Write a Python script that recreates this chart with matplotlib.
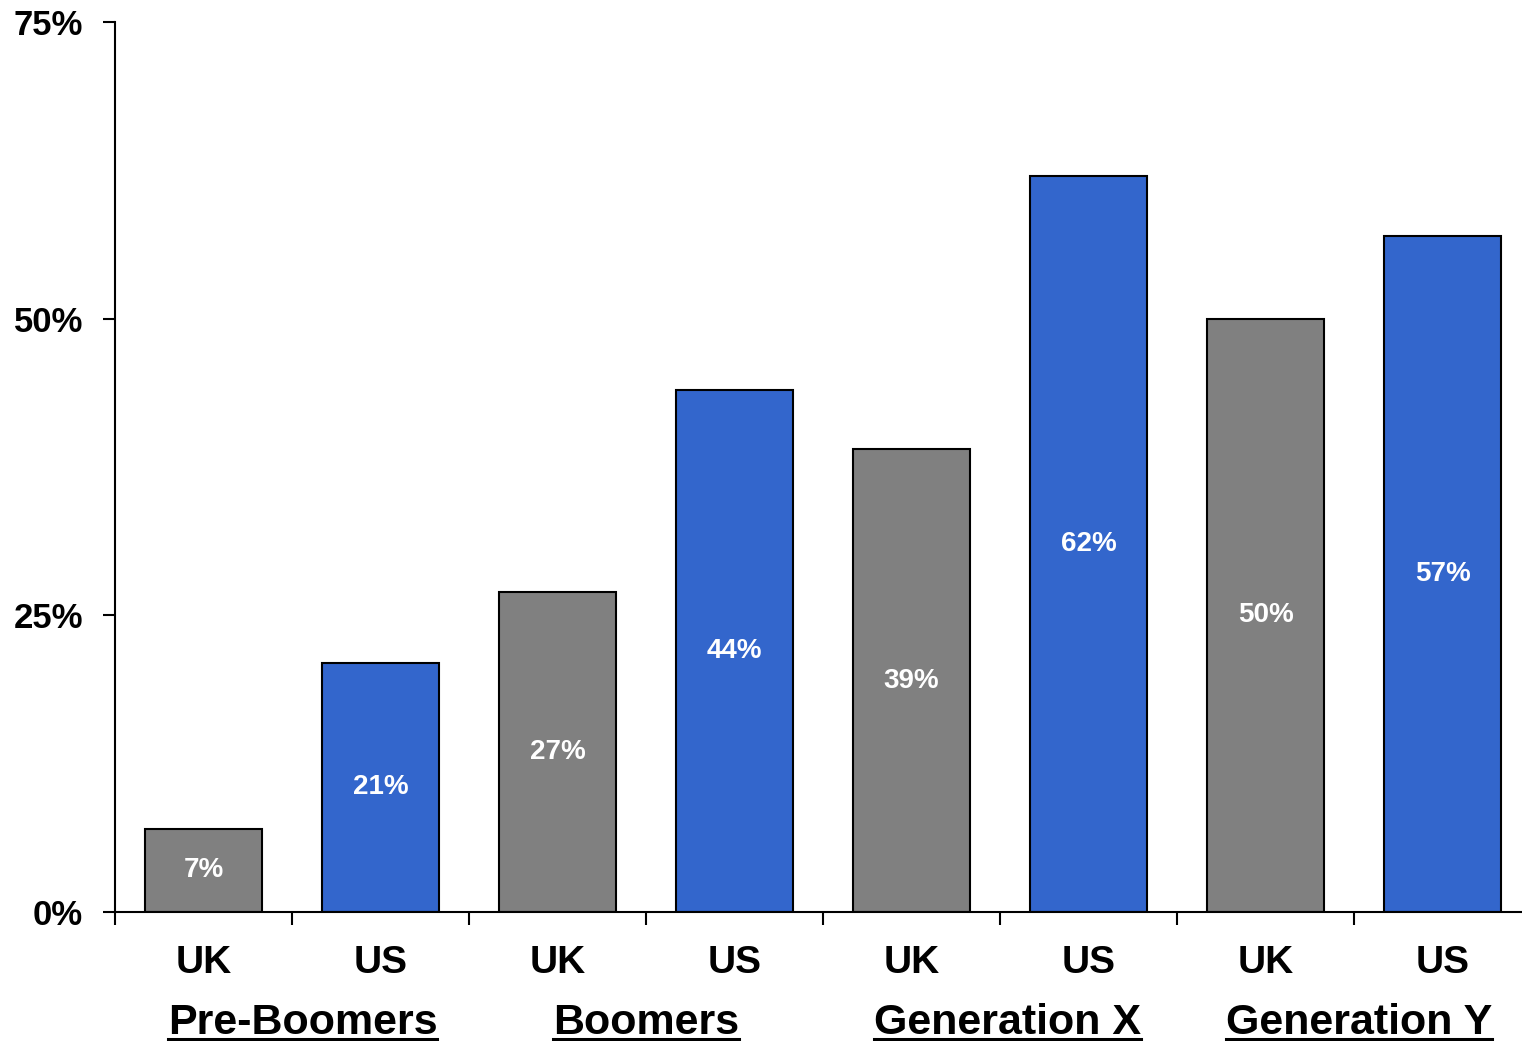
import matplotlib
matplotlib.use("Agg")
import matplotlib.pyplot as plt
from matplotlib.lines import Line2D
from matplotlib.transforms import blended_transform_factory

countries = ["UK", "US", "UK", "US", "UK", "US", "UK", "US"]
values = [7, 21, 27, 44, 39, 62, 50, 57]
groups = ["Pre-Boomers", "Boomers", "Generation X", "Generation Y"]
group_offsets = [0.06, 0.0, 0.04, 0.03]
yticks = [0, 25, 50, 75]
colors = {"UK": "#808080", "US": "#3366CC"}

plt.rcParams["font.family"] = ["Liberation Sans", "DejaVu Sans"]
plt.rcParams["font.weight"] = "bold"

W, H = 1522, 1041
fig = plt.figure(figsize=(W / 100, H / 100), dpi=100)
left, right, bottom, top = 115, 1531, 912, 22
ax = fig.add_axes([left / W, (H - bottom) / H, (right - left) / W, (bottom - top) / H])

x = list(range(len(values)))
ax.bar(x, values, width=0.66, color=[colors[c] for c in countries],
       edgecolor="black", linewidth=1.5, zorder=2)
for xi, v in zip(x, values):
    ax.text(xi, v / 2, f"{v}%", ha="center", va="center", color="white",
            fontsize=20, fontweight="bold", zorder=3)

ax.set_xlim(-0.5, len(values) - 0.5)
ax.set_ylim(0, 75)
ax.set_yticks(yticks)
ax.set_yticklabels([f"{t}%" for t in yticks], fontsize=25, fontweight="bold")
ax.tick_params(axis="y", length=9, width=1.5, pad=14)

ax.set_xticks([i - 0.5 for i in range(len(values) + 1)])
ax.set_xticklabels([])
ax.tick_params(axis="x", length=9.5, width=1.5)

for s in ["top", "right"]:
    ax.spines[s].set_visible(False)
for s in ["left", "bottom"]:
    ax.spines[s].set_linewidth(1.5)

trans = blended_transform_factory(ax.transData, ax.transAxes)
for xi, c in zip(x, countries):
    ax.text(xi, -0.069, c, transform=trans, ha="center", va="baseline",
            fontsize=28, fontweight="bold")

gy = -0.137
gtexts = []
for gi, g in enumerate(groups):
    t = ax.text(2 * gi + 0.5 + group_offsets[gi], gy, g, transform=trans,
                ha="center", va="baseline", fontsize=31, fontweight="bold")
    gtexts.append(t)

fig.canvas.draw()
r = fig.canvas.get_renderer()
_, ybase = trans.transform((0, gy))
yl = (ybase - 5) / H
for t in gtexts:
    bb = t.get_window_extent(r)
    fig.add_artist(Line2D([bb.x0 / W, bb.x1 / W], [yl, yl], color="black",
                          linewidth=2.2, transform=fig.transFigure))

fig.savefig("out.png", dpi=100)
